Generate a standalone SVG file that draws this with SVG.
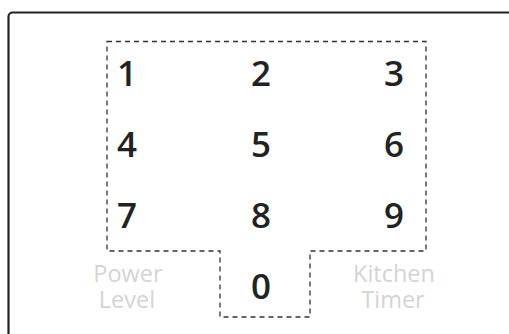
<svg xmlns="http://www.w3.org/2000/svg" width="509" height="334" viewBox="0 0 509 334">
<style>
.d{font-family:"Open Sans","Liberation Sans",sans-serif;font-weight:600;font-size:35px;fill:#222;text-anchor:middle}
.l{font-family:"Open Sans","Liberation Sans",sans-serif;font-size:23.5px;fill:#d4d4d4;text-anchor:middle}
</style>
<rect width="509" height="334" fill="#fff"/>
<rect x="8.5" y="12.5" width="540" height="360" rx="4" fill="none" stroke="#222" stroke-width="2.2"/>
<g id="keypad">
<path d="M107,41.5 H426 V251 H310 V317 H220 V251 H107 Z" fill="none" stroke="#333" stroke-width="1.3" stroke-dasharray="5,4"/>
</g>
<g id="keys">
<text class="d" x="127" y="86">1</text>
<text class="d" x="261" y="86">2</text>
<text class="d" x="394" y="86">3</text>
<text class="d" x="127" y="157">4</text>
<text class="d" x="261" y="157">5</text>
<text class="d" x="394" y="157">6</text>
<text class="d" x="127" y="228">7</text>
<text class="d" x="261" y="228">8</text>
<text class="d" x="394" y="228">9</text>
<text class="d" x="261" y="299">0</text>
</g>
<g id="labels">
<text class="l" x="128" y="282">Power</text>
<text class="l" x="127" y="308">Level</text>
<text class="l" x="394" y="282">Kitchen</text>
<text class="l" x="393" y="308">Timer</text>
</g>
</svg>
